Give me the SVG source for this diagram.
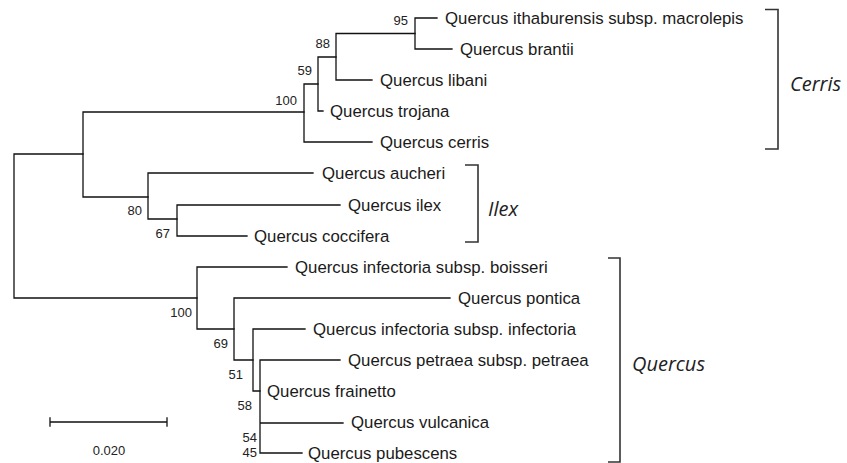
<svg xmlns="http://www.w3.org/2000/svg" width="847" height="463" viewBox="0 0 847 463">
<style>
.br{fill:none;stroke:#111;stroke-width:1.3;stroke-linecap:square}
.bk{fill:none;stroke:#333;stroke-width:1.6}
.tx{font-family:"Liberation Sans",Arial,sans-serif;font-size:16.8px;fill:#1a1a1a}
.bs{font-family:"Liberation Sans",Arial,sans-serif;font-size:13px;fill:#222}
.cl{font-family:"Open Sans","DejaVu Sans",sans-serif;font-style:italic;font-size:20px;fill:#222}
</style>
<rect width="847" height="463" fill="#fff"/>
<g id="connectors">
<path class="br" d="M14,154V298M14,154H83M14,298H197"/>
<path class="br" d="M83,112V197M83,112H304M83,197H148"/>
<path class="br" d="M304,84V142M304,84H318M304,142H372"/>
<path class="br" d="M318,57V111M318,57H336M318,111H323"/>
<path class="br" d="M336,33.5V80M336,33.5H415M336,80H372"/>
<path class="br" d="M415,18V49M415,18H437M415,49H452"/>
<path class="br" d="M148,173V219M148,173H313M148,219H177"/>
<path class="br" d="M177,205V236M177,205H340M177,236H247"/>
<path class="br" d="M197,267V329M197,267H287M197,329H234"/>
<path class="br" d="M234,298V360M234,298H450M234,360H253"/>
<path class="br" d="M253,329V391M253,329H305M253,391H260"/>
<path class="br" d="M260,360V453M260,360H340M260,423H343M260,453H302"/>
</g>
<g id="n-macrolepis"><text class="tx" x="445" y="24">Quercus ithaburensis subsp. macrolepis</text></g>
<g id="n-brantii"><text class="tx" x="460" y="55">Quercus brantii</text></g>
<g id="n-libani"><text class="tx" x="380" y="86">Quercus libani</text></g>
<g id="n-trojana"><text class="tx" x="330" y="117">Quercus trojana</text></g>
<g id="n-cerris"><text class="tx" x="380" y="148">Quercus cerris</text></g>
<g id="n-aucheri"><text class="tx" x="322" y="179">Quercus aucheri</text></g>
<g id="n-ilex"><text class="tx" x="348" y="211">Quercus ilex</text></g>
<g id="n-coccifera"><text class="tx" x="254" y="242">Quercus coccifera</text></g>
<g id="n-boisseri"><text class="tx" x="295" y="273">Quercus infectoria subsp. boisseri</text></g>
<g id="n-pontica"><text class="tx" x="458" y="304">Quercus pontica</text></g>
<g id="n-infectoria"><text class="tx" x="313" y="335">Quercus infectoria subsp. infectoria</text></g>
<g id="n-petraea"><text class="tx" x="348" y="366">Quercus petraea subsp. petraea</text></g>
<g id="n-frainetto"><text class="tx" x="267" y="397">Quercus frainetto</text></g>
<g id="n-vulcanica"><text class="tx" x="351" y="428">Quercus vulcanica</text></g>
<g id="n-pubescens"><text class="tx" x="308" y="459">Quercus pubescens</text></g>
<g id="bootstrap">
<text class="bs" x="408" y="25" text-anchor="end">95</text>
<text class="bs" x="330" y="48" text-anchor="end">88</text>
<text class="bs" x="312" y="75" text-anchor="end">59</text>
<text class="bs" x="297" y="105" text-anchor="end">100</text>
<text class="bs" x="142" y="215" text-anchor="end">80</text>
<text class="bs" x="170" y="238" text-anchor="end">67</text>
<text class="bs" x="192" y="317" text-anchor="end">100</text>
<text class="bs" x="228" y="348" text-anchor="end">69</text>
<text class="bs" x="243" y="379" text-anchor="end">51</text>
<text class="bs" x="252" y="410" text-anchor="end">58</text>
<text class="bs" x="257" y="442" text-anchor="end">54</text>
<text class="bs" x="257" y="457" text-anchor="end">45</text>
</g>
<g id="clade-cerris">
<path class="bk" d="M765,9.5H778V149H765"/>
<text class="cl" x="790" y="91">Cerris</text>
</g>
<g id="clade-ilex">
<path class="bk" d="M465,165H478V242H465"/>
<text class="cl" x="488" y="216">Ilex</text>
</g>
<g id="clade-quercus">
<path class="bk" d="M608,258H620V462H608"/>
<text class="cl" x="632" y="371">Quercus</text>
</g>
<g id="scale">
<path class="br" d="M50,422H167M50,418V426M167,418V426"/>
<text class="bs" x="109" y="455" text-anchor="middle">0.020</text>
</g>
</svg>
